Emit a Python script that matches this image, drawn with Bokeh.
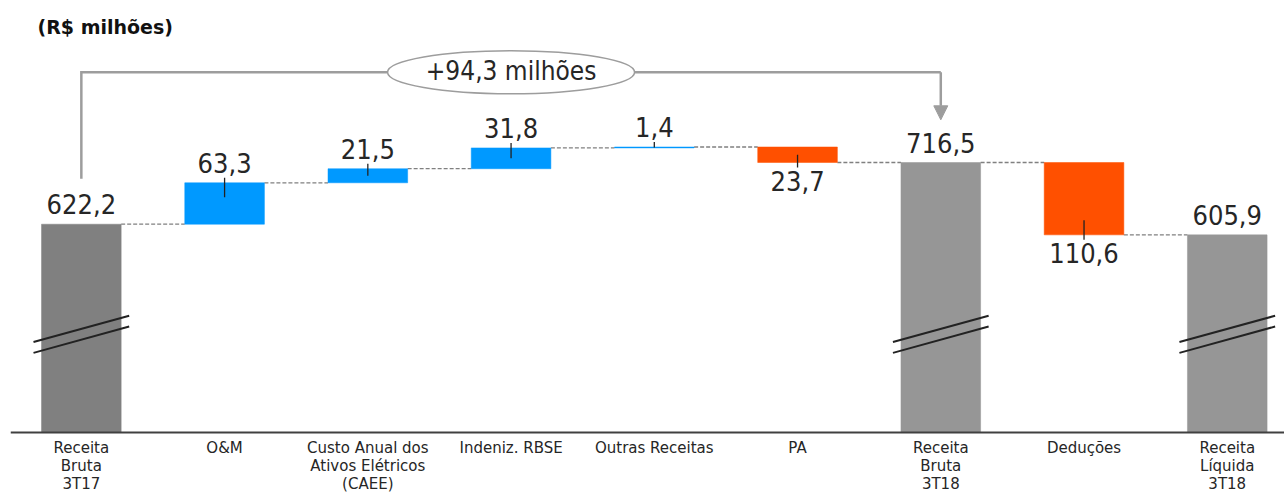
from bokeh.plotting import figure
from bokeh.models import ColumnDataSource, Span, Arrow, NormalHead
from bokeh.core.properties import value
from bokeh.embed import file_html
from bokeh.resources import INLINE

# ---------------- data ----------------
categories = [
    "Receita\nBruta\n3T17",
    "O&M",
    "Custo Anual dos\nAtivos Elétricos\n(CAEE)",
    "Indeniz. RBSE",
    "Outras Receitas",
    "PA",
    "Receita\nBruta\n3T18",
    "Deduções",
    "Receita\nLíquida\n3T18",
]
kinds = ["total", "delta", "delta", "delta", "delta", "delta", "total", "delta", "total"]
values = [622.2, 63.3, 21.5, 31.8, 1.4, -23.7, 716.5, -110.6, 605.9]
change_label = "+94,3 milhões"
unit_label = "(R$ milhões)"

# ---------------- styles ----------------
TOTAL_COLORS = ["#808080", "#969696", "#969696"]
POS_COLOR = "#0099FF"
NEG_COLOR = "#FF5000"
TEXT_COLOR = "#262626"
GREY_LINE = "#9d9d9d"
VAL_FONT = "DejaVu Sans Condensed"
CAT_FONT = "DejaVu Sans"

W, H = 1284, 497
LEFT = 10
FRAME_W = W - LEFT
PX_PER_CAT = 143.24
X0 = -0.4946
X1 = X0 + FRAME_W / PX_PER_CAT
S = 0.6543                      # pixels per R$ million
Y1 = 964.1
Y0 = Y1 - H / S
AXIS_Y = 303.8                  # broken-axis baseline
BAR_W = 0.556
BREAK_LEVELS = [462.2, 445.7]

# ---------------- waterfall computation ----------------
bottoms, tops, colors = [], [], []
level = 0.0
ti = 0
levels_after = []
for k, v in zip(kinds, values):
    if k == "total":
        bottoms.append(AXIS_Y)
        tops.append(v)
        colors.append(TOTAL_COLORS[ti])
        ti += 1
        level = v
    else:
        new = level + v
        bottoms.append(min(level, new))
        tops.append(max(level, new))
        colors.append(POS_COLOR if v >= 0 else NEG_COLOR)
        level = new
    levels_after.append(level)

xs = list(range(len(categories)))

p = figure(width=W, height=H, x_range=(X0, X1), y_range=(Y0, Y1),
           output_backend="svg", toolbar_location=None,
           x_axis_location=None, y_axis_location=None,
           min_border_left=LEFT, min_border_right=0, min_border_top=0, min_border_bottom=0)
p.outline_line_color = None
p.xgrid.visible = False
p.ygrid.visible = False
p.background_fill_color = "white"

# connectors
cx0, cx1, cy = [], [], []
for i in range(len(xs) - 1):
    cx0.append(xs[i] + BAR_W / 2)
    cx1.append(xs[i + 1] - BAR_W / 2)
    cy.append(levels_after[i])
p.segment(x0=cx0, y0=cy, x1=cx1, y1=cy, line_color="#808080", line_width=1.3, line_dash="4 2")

# bars
src = ColumnDataSource(dict(x=xs, top=tops, bottom=bottoms, color=colors))
p.vbar(x="x", top="top", bottom="bottom", width=BAR_W, fill_color="color",
       line_color="color", line_width=0.5, source=src)

# axis line
p.add_layout(Span(location=AXIS_Y, dimension="width", line_color="#404040", line_width=2))

# break marks on total bars
bx0, by0, bx1, by1 = [], [], [], []
for i, k in enumerate(kinds):
    if k == "total":
        for bl in BREAK_LEVELS:
            bx0.append(xs[i] - 0.334)
            bx1.append(xs[i] + 0.334)
            by0.append(bl - 20.1)
            by1.append(bl + 20.1)
p.segment(x0=bx0, y0=by0, x1=bx1, y1=by1, line_color="#222222", line_width=2)

# value labels and leader ticks
def fmt(v):
    return f"{abs(v):.1f}".replace(".", ",")

up_x, up_y, up_t = [], [], []
dn_x, dn_y, dn_t = [], [], []
lx0, ly0, lx1, ly1 = [], [], [], []
for i, (k, v) in enumerate(zip(kinds, values)):
    top, bot = tops[i], bottoms[i]
    mid = (top + bot) / 2
    if k == "total" or v >= 0:
        up_x.append(xs[i]); up_y.append(top); up_t.append(fmt(v))
        if k != "total":
            lx0.append(xs[i]); lx1.append(xs[i])
            ly0.append(top + 5 / S); ly1.append(max(top - 14.5 / S, mid))
    else:
        dn_x.append(xs[i]); dn_y.append(bot); dn_t.append(fmt(v))
        lx0.append(xs[i]); lx1.append(xs[i])
        ly0.append(bot - 5 / S); ly1.append(min(bot + 14.5 / S, mid))

p.segment(x0=lx0, y0=ly0, x1=lx1, y1=ly1, line_color="#222222", line_width=1.3)
p.text(x=up_x, y=up_y, text=up_t, text_align="center", text_baseline="alphabetic",
       y_offset=-20, text_font=value(VAL_FONT), text_font_size="27px", text_color=TEXT_COLOR)
p.text(x=dn_x, y=dn_y, text=dn_t, text_align="center", text_baseline="alphabetic",
       y_offset=18, text_font=value(VAL_FONT), text_font_size="27px", text_color=TEXT_COLOR)

# category labels under the axis
p.text(x=xs, y=[AXIS_Y] * len(xs), text=categories, text_align="center", text_baseline="top",
       y_offset=6, text_line_height=1.02, text_font=value(CAT_FONT), text_font_size="15px",
       text_color=TEXT_COLOR)

# change bracket
i_end = kinds.index("total", 1)
Y_BR = tops[0] + 152 / S
left_bottom = tops[0] + 45.4 / S
tip = tops[i_end] + 42.7 / S
p.line(x=[xs[0], xs[0], xs[i_end]], y=[left_bottom, Y_BR, Y_BR], line_color=GREY_LINE,
       line_width=2.5, line_join="miter")
p.add_layout(Arrow(end=NormalHead(size=14, fill_color=GREY_LINE, line_color=GREY_LINE),
                   x_start=xs[i_end], y_start=Y_BR, x_end=xs[i_end], y_end=tip,
                   line_color=GREY_LINE, line_width=2.5))
xm = (xs[0] + xs[i_end]) / 2
p.ellipse(x=[xm], y=[Y_BR], width=247, height=43, width_units="screen", height_units="screen",
          fill_color="white", line_color=GREY_LINE, line_width=1.5)
p.text(x=[xm], y=[Y_BR], text=[change_label], text_align="center", text_baseline="alphabetic",
       y_offset=-1, text_font=value(VAL_FONT), text_font_size="26px", text_color=TEXT_COLOR)

# unit title
p.text(x=[X0 + 27 / PX_PER_CAT], y=[Y1 - 26 / S], text=[unit_label], text_align="left",
       text_baseline="alphabetic", text_font=value("DejaVu Sans"), text_font_size="19px",
       text_font_style="bold", text_color="#111111")

open("out.html", "w").write(file_html(p, INLINE))
